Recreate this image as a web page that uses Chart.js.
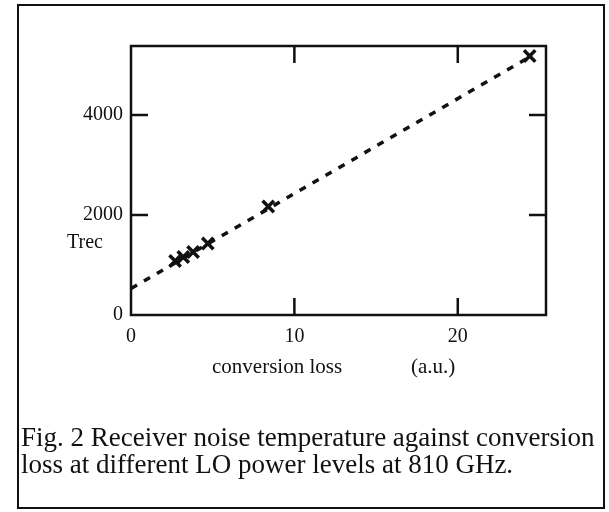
<!DOCTYPE html>
<html lang="en">
<head>
  <meta charset="UTF-8" />
  <title>Fig. 2 Receiver noise temperature</title>
  <script src="https://cdn.jsdelivr.net/npm/chart.js"></script>
  <style>
    body {
      margin: 0;
      background: #ffffff;
      font-family: 'Liberation Serif', 'DejaVu Serif', serif;
      color: #111;
    }
    .page {
      position: relative;
      width: 609px;
      height: 512px;
      overflow: hidden;
    }
    .frame {
      position: absolute;
      left: 17px;
      top: 4px;
      width: 584px;
      height: 501px;
      border: 2px solid #111;
    }
    canvas { position: absolute; left: 0; top: 0; }
    .lbl {
      position: absolute;
      font-size: 20px;
      white-space: nowrap;
    }
    .caption {
      position: absolute;
      left: 21px;
      top: 424px;
      font-size: 27px;
      line-height: 27px;
      white-space: nowrap;
    }
  </style>
</head>
<body>
  <div class="page">
    <div class="frame"></div>
    <canvas id="chart" width="609" height="512"></canvas>
    <div class="lbl" style="left:67px; top:230px;">Trec</div>
    <div class="lbl" style="left:212px; top:354px; font-size:21px;">conversion loss</div>
    <div class="lbl" style="left:411px; top:354px; font-size:21px;">(a.u.)</div>
    <div class="caption">Fig. 2 Receiver noise temperature against conversion<br>loss at different LO power levels at 810 GHz.</div>
  </div>

  <script>
    // measured points (conversion loss, Trec)
    const lossValues = [2.7, 3.2, 3.8, 4.7, 8.4, 24.4];
    const trecValues = [1080, 1160, 1260, 1430, 2170, 5180];

    // dashed fit line end points
    const fitLoss = [0, 24.6];
    const fitTrec = [530, 5200];

    const xTicks = [0, 10, 20];
    const yTicks = [0, 2000, 4000];

    const points = lossValues.map((x, i) => ({ x: x, y: trecValues[i] }));
    const fit = fitLoss.map((x, i) => ({ x: x, y: fitTrec[i] }));

    // box round the plot and tick marks pointing inwards on all four sides
    const innerTicks = {
      id: 'innerTicks',
      afterDraw(chart) {
        const c = chart.ctx;
        const a = chart.chartArea;
        const xs = chart.scales.x, ys = chart.scales.y;
        c.save();
        c.strokeStyle = '#111';
        c.lineWidth = 2.5;
        c.strokeRect(a.left, a.top, a.right - a.left, a.bottom - a.top);
        const len = 17;
        xTicks.forEach(v => {
          if (v === 0) return;
          const px = xs.getPixelForValue(v);
          c.beginPath();
          c.moveTo(px, a.bottom); c.lineTo(px, a.bottom - len);
          c.moveTo(px, a.top); c.lineTo(px, a.top + len);
          c.stroke();
        });
        yTicks.forEach(v => {
          if (v === 0) return;
          const py = ys.getPixelForValue(v);
          c.beginPath();
          c.moveTo(a.left, py); c.lineTo(a.left + len, py);
          c.moveTo(a.right, py); c.lineTo(a.right - len, py);
          c.stroke();
        });
        c.restore();
      }
    };

    const tickFont = { family: "'Liberation Serif', serif", size: 20 };

    new Chart(document.getElementById('chart'), {
      type: 'scatter',
      data: {
        datasets: [
          {
            label: 'fit',
            data: fit,
            showLine: true,
            borderColor: '#111',
            borderWidth: 3.5,
            borderDash: [7, 8],
            pointRadius: 0,
            fill: false
          },
          {
            label: 'Trec',
            data: points,
            pointStyle: 'crossRot',
            pointRadius: 8,
            borderColor: '#111',
            borderWidth: 3.5
          }
        ]
      },
      options: {
        responsive: false,
        animation: false,
        layout: { padding: { left: 0, top: 46, right: 63, bottom: 157 } },
        plugins: {
          legend: { display: false },
          tooltip: { enabled: false }
        },
        scales: {
          x: {
            type: 'linear',
            min: 0,
            max: 25.4,
            afterBuildTicks: s => { s.ticks = xTicks.map(v => ({ value: v })); },
            afterFit: s => { s.height = 40; },
            grid: { display: false, drawTicks: false },
            border: { display: false },
            ticks: { color: '#111', font: tickFont, padding: 10, maxRotation: 0, callback: v => String(v) }
          },
          y: {
            type: 'linear',
            min: 0,
            max: 5380,
            afterBuildTicks: s => { s.ticks = yTicks.map(v => ({ value: v })); },
            afterFit: s => { s.width = 131; },
            grid: { display: false, drawTicks: false },
            border: { display: false },
            ticks: { color: '#111', font: tickFont, padding: 8, callback: v => String(v) }
          }
        }
      },
      plugins: [innerTicks]
    });
  </script>
</body>
</html>
